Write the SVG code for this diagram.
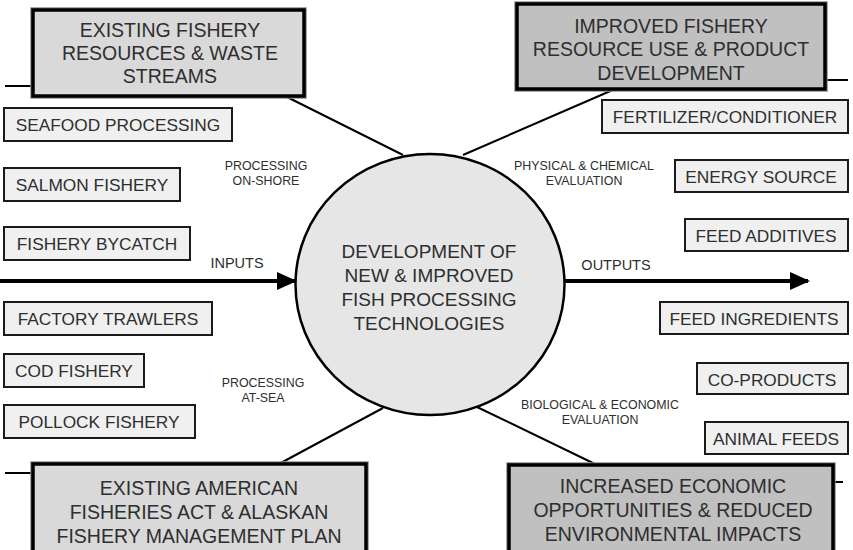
<svg xmlns="http://www.w3.org/2000/svg" width="853" height="550" viewBox="0 0 853 550">
<style>
text{font-family:"Liberation Sans",Arial,sans-serif;fill:#2e2e2e;text-anchor:middle}
.big text{font-size:19.5px}
.halo{fill:none;stroke:#8c8c8c;stroke-width:5.5}
.light{fill:#d9d9d9;stroke:#000;stroke-width:3.5}
.dark{fill:#c0c0c0;stroke:#000;stroke-width:3.5}
.sm rect{fill:#f0f0f0;stroke:#1a1a1a;stroke-width:2}
.sm text{font-size:17.3px}
.lbl{font-size:12.4px}
.io{font-size:14.5px}
.thin{stroke:#000;stroke-width:2;fill:none}
.thick{stroke:#000;stroke-width:4;fill:none}
</style>
<defs>
<marker id="ah" markerWidth="5" markerHeight="4.5" refX="4.5" refY="2.25" orient="auto" markerUnits="strokeWidth">
<path d="M0,0 L5,2.25 L0,4.5 Z" fill="#000"/>
</marker>
</defs>
<rect width="853" height="550" fill="#fff"/>
<g id="connectors">
<line class="thin" x1="5" y1="86" x2="33" y2="86"/>
<line class="thin" x1="825" y1="80" x2="848" y2="80"/>
<line class="thin" x1="5" y1="473" x2="33" y2="473"/>
<line class="thin" x1="833" y1="482" x2="843" y2="482"/>
<line class="thin" x1="287" y1="97" x2="403" y2="155"/>
<line class="thin" x1="615" y1="89" x2="463" y2="155"/>
<line class="thin" x1="277" y1="465" x2="383" y2="408"/>
<line class="thin" x1="597" y1="465" x2="477" y2="407"/>
<line class="thick" x1="0" y1="281" x2="295" y2="281" marker-end="url(#ah)"/>
<line class="thick" x1="564" y1="281" x2="808" y2="281" marker-end="url(#ah)"/>
</g>
<g id="center">
<ellipse cx="430" cy="284.5" rx="134.5" ry="130.5" fill="#e6e6e6" stroke="#000" stroke-width="2.5"/>
<text x="429" y="258" font-size="19px">DEVELOPMENT OF</text>
<text x="429" y="282" font-size="19px">NEW &amp; IMPROVED</text>
<text x="429" y="306" font-size="19px">FISH PROCESSING</text>
<text x="429" y="330" font-size="19px">TECHNOLOGIES</text>
</g>
<g id="existing-resources" class="big">
<rect class="halo" x="33" y="10" width="271" height="86"/>
<rect class="light" x="33" y="10" width="271" height="86"/>
<text x="170" y="37">EXISTING FISHERY</text>
<text x="170" y="60">RESOURCES &amp; WASTE</text>
<text x="170" y="83">STREAMS</text>
</g>
<g id="improved-use" class="big">
<rect class="halo" x="517" y="4" width="308" height="85"/>
<rect class="dark" x="517" y="4" width="308" height="85"/>
<text x="671" y="33">IMPROVED FISHERY</text>
<text x="671" y="56">RESOURCE USE &amp; PRODUCT</text>
<text x="671" y="80">DEVELOPMENT</text>
</g>
<g id="existing-act" class="big">
<rect class="halo" x="33" y="464" width="333" height="90"/>
<rect class="light" x="33" y="464" width="333" height="90"/>
<text x="199" y="495">EXISTING AMERICAN</text>
<text x="199" y="519">FISHERIES ACT &amp; ALASKAN</text>
<text x="199" y="543">FISHERY MANAGEMENT PLAN</text>
</g>
<g id="increased" class="big">
<rect class="halo" x="509" y="465" width="324" height="90"/>
<rect class="dark" x="509" y="465" width="324" height="90"/>
<text x="673" y="493">INCREASED ECONOMIC</text>
<text x="673" y="517">OPPORTUNITIES &amp; REDUCED</text>
<text x="673" y="541">ENVIRONMENTAL IMPACTS</text>
</g>
<g id="seafood" class="sm"><rect x="4" y="108" width="228" height="33"/><text x="118" y="131">SEAFOOD PROCESSING</text></g>
<g id="salmon" class="sm"><rect x="4" y="168" width="176" height="33"/><text x="92" y="191">SALMON FISHERY</text></g>
<g id="bycatch" class="sm"><rect x="4" y="227" width="186" height="33"/><text x="97" y="250">FISHERY BYCATCH</text></g>
<g id="trawlers" class="sm"><rect x="4" y="302" width="208" height="33"/><text x="108" y="325">FACTORY TRAWLERS</text></g>
<g id="cod" class="sm"><rect x="4" y="354" width="140" height="33"/><text x="74" y="377">COD FISHERY</text></g>
<g id="pollock" class="sm"><rect x="4" y="405" width="191" height="33"/><text x="99" y="428">POLLOCK FISHERY</text></g>
<g id="fertilizer" class="sm"><rect x="602" y="100" width="246" height="33"/><text x="725" y="123">FERTILIZER/CONDITIONER</text></g>
<g id="energy" class="sm"><rect x="675" y="160" width="173" height="32"/><text x="761" y="183">ENERGY SOURCE</text></g>
<g id="additives" class="sm"><rect x="685" y="219" width="163" height="32"/><text x="766" y="242">FEED ADDITIVES</text></g>
<g id="ingredients" class="sm"><rect x="660" y="302" width="188" height="32"/><text x="754" y="325">FEED INGREDIENTS</text></g>
<g id="coproducts" class="sm"><rect x="697" y="363" width="151" height="31"/><text x="772" y="386">CO-PRODUCTS</text></g>
<g id="animal" class="sm"><rect x="705" y="422" width="143" height="32"/><text x="776" y="445">ANIMAL FEEDS</text></g>
<g id="labels">
<text class="lbl" x="266" y="170">PROCESSING</text>
<text class="lbl" x="266" y="185">ON-SHORE</text>
<text class="lbl" x="584" y="170">PHYSICAL &amp; CHEMICAL</text>
<text class="lbl" x="584" y="185">EVALUATION</text>
<text class="lbl" x="263" y="387">PROCESSING</text>
<text class="lbl" x="263" y="402">AT-SEA</text>
<text class="lbl" x="600" y="409">BIOLOGICAL &amp; ECONOMIC</text>
<text class="lbl" x="600" y="424">EVALUATION</text>
<text class="io" x="237" y="268">INPUTS</text>
<text class="io" x="616" y="270">OUTPUTS</text>
</g>
</svg>
